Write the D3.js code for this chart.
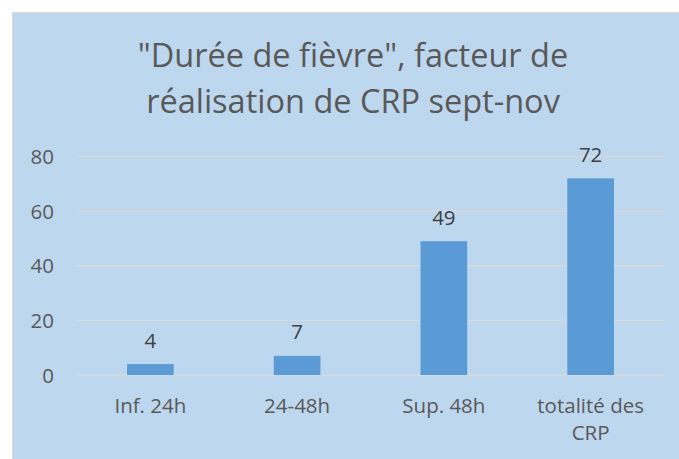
<!DOCTYPE html>
<html><head><meta charset="utf-8">
<script src="https://cdn.jsdelivr.net/npm/d3@7"></script>
<style>body{margin:0;background:#fff}svg{display:block}</style>
</head><body>
<script>
const categories = ["Inf. 24h", "24-48h", "Sup. 48h", "totalité des CRP"];
const categoryLines = [["Inf. 24h"], ["24-48h"], ["Sup. 48h"], ["totalité des", "CRP"]];
const values = [4, 7, 49, 72];
const yTicks = [0, 20, 40, 60, 80];
const titleLines = ["\"Durée de fièvre\", facteur de", "réalisation de CRP sept-nov"];

const W = 679, H = 459;
const svg = d3.select("body").append("svg").attr("width", W).attr("height", H);
const font = "'Open Sans', sans-serif";

svg.append("rect").attr("x", 12.5).attr("y", 12.5).attr("width", W).attr("height", H)
  .attr("fill", "#bdd7ee").attr("stroke", "#d9d9d9").attr("stroke-width", 1);

const x = d3.scaleBand().domain(categories).range([77, 664]).paddingInner(0.682).paddingOuter(0.341);
const y = d3.scaleLinear().domain([0, 80]).range([375, 156.5]);

// gridlines
svg.append("g").selectAll("line").data(yTicks).join("line")
  .attr("x1", 77).attr("x2", 664)
  .attr("y1", d => y(d)).attr("y2", d => y(d))
  .attr("stroke", "#d9d9d9").attr("stroke-width", 1.3);

// y axis labels
const yAxis = d3.axisLeft(y).tickValues(yTicks).tickSize(0).tickPadding(0);
const ga = svg.append("g").attr("transform", "translate(54,0)").call(yAxis);
ga.select(".domain").remove();
ga.selectAll("text").attr("font-family", font).attr("font-size", 20.5).attr("fill", "#595959").attr("dy", "0.35em");

// bars
svg.append("g").selectAll("rect").data(values).join("rect")
  .attr("x", (d, i) => x(categories[i])).attr("width", x.bandwidth())
  .attr("y", d => y(d)).attr("height", d => y(0) - y(d))
  .attr("fill", "#5b9bd5");

// value labels
svg.append("g").selectAll("text").data(values).join("text")
  .attr("x", (d, i) => x(categories[i]) + x.bandwidth() / 2)
  .attr("y", d => y(d) - 16.5)
  .attr("text-anchor", "middle").attr("font-family", font).attr("font-size", 20.5)
  .attr("fill", "#404040").text(d => d);

// category labels
const cg = svg.append("g").selectAll("text").data(categories).join("text")
  .attr("text-anchor", "middle").attr("font-family", font).attr("font-size", 20.5).attr("fill", "#595959");
cg.each(function(d, i) {
  const t = d3.select(this);
  categoryLines[i].forEach((ln, j) => {
    t.append("tspan").attr("x", x(d) + x.bandwidth() / 2).attr("y", 413 + j * 27).text(ln);
  });
});

// title
svg.append("g").selectAll("text").data(titleLines).join("text")
  .attr("x", 353).attr("y", (d, i) => 67 + i * 46)
  .attr("text-anchor", "middle").attr("font-family", font).attr("font-size", 32.5)
  .attr("fill", "#595959").text(d => d);
</script>
</body></html>
